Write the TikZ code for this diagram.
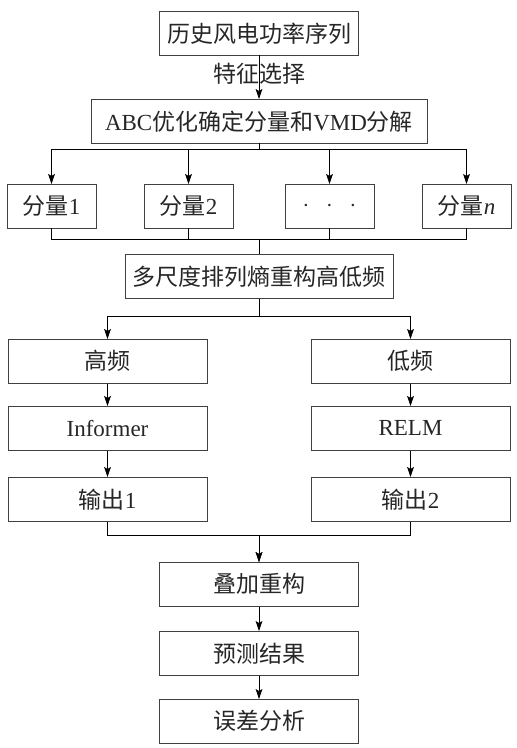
\documentclass[tikz,border=0pt]{standalone}
\usepackage{fontspec}
\setmainfont{Liberation Serif}
\newfontfamily\cjk{Noto Sans CJK SC}
\usetikzlibrary{positioning, arrows.meta}
\tikzset{
  box/.style={
    draw=black!75, minimum height=22.25pt, inner sep=0pt, outer sep=0pt,
    text=black!85, font=\fontsize{11.5pt}{13pt}\selectfont
  },
  sbox/.style={box, minimum width=44.5pt},
  wbox/.style={box, minimum width=99.5pt},
  -{Stealth[length=5pt,width=3.4pt,inset=1pt]}, semithick, draw=black!75
}

\begin{document}
\begin{tikzpicture}
      \useasboundingbox (0,0) rectangle (258.5pt,-374pt);

      \node[wbox, anchor=north] (hist) at (129.5pt,-5.5pt) {\cjk 历史风电功率序列};
      \node[box, minimum width=168pt, below=21.75pt of hist] (abc) {ABC{\cjk 优化确定分量和}VMD{\cjk 分解}};

      % components
      \node[sbox, below left=20.25pt and 13pt of abc.south] (comp2) {{\cjk 分量}2};
      \node[sbox, left=24pt of comp2] (comp1) {{\cjk 分量}1};
      \node[sbox, right=26pt of comp2] (dots) {$\cdot\ \ \cdot\ \ \cdot$};
      \node[sbox, right=24pt of dots] (compn) {{\cjk 分量}\textit{n}};

      \node[box, minimum width=134pt, below=55.25pt of abc] (mpe) {\cjk 多尺度排列熵重构高低频};

      % two branches
      \node[wbox, below left=20.25pt and 26pt of mpe.south] (high) {\cjk 高频};
      \node[wbox, below=11.25pt of high] (informer) {Informer};
      \node[wbox, below=13.25pt of informer] (out1) {{\cjk 输出}1};
      \node[wbox, below right=20.25pt and 26pt of mpe.south] (low) {\cjk 低频};
      \node[wbox, below=11.25pt of low] (relm) {RELM};
      \node[wbox, below=13.25pt of relm] (out2) {{\cjk 输出}2};

      \coordinate (join) at (out1.south -| mpe.south);
      \node[wbox, anchor=north, yshift=-20.25pt] (sum) at (join) {\cjk 叠加重构};
      \node[wbox, below=12.25pt of sum] (pred) {\cjk 预测结果};
      \node[wbox, below=11.75pt of pred] (err) {\cjk 误差分析};

      \draw (hist) -- node[pos=0.42, text=black!85, font=\fontsize{11.5pt}{13pt}\selectfont] {\cjk 特征选择} (abc);

      \foreach \c in {comp1, comp2, dots, compn}
        \draw (abc.south) -- ++(0,-2.75pt) -| (\c.north);
      \foreach \c in {comp1, comp2, dots, compn}
        \draw[-] (\c.south) -- ++(0,-5.25pt) -| (mpe.north);

      \draw (mpe.south) -- ++(0,-8.75pt) -| (high.north);
      \draw (mpe.south) -- ++(0,-8.75pt) -| (low.north);
      \draw (high) -- (informer);
      \draw (informer) -- (out1);
      \draw (low) -- (relm);
      \draw (relm) -- (out2);

      \draw (out1.south) -- ++(0,-6.75pt) -| (sum.north);
      \draw (out2.south) -- ++(0,-6.75pt) -| (sum.north);
      \draw (sum) -- (pred);
      \draw (pred) -- (err);

    \end{tikzpicture}
\end{document}
